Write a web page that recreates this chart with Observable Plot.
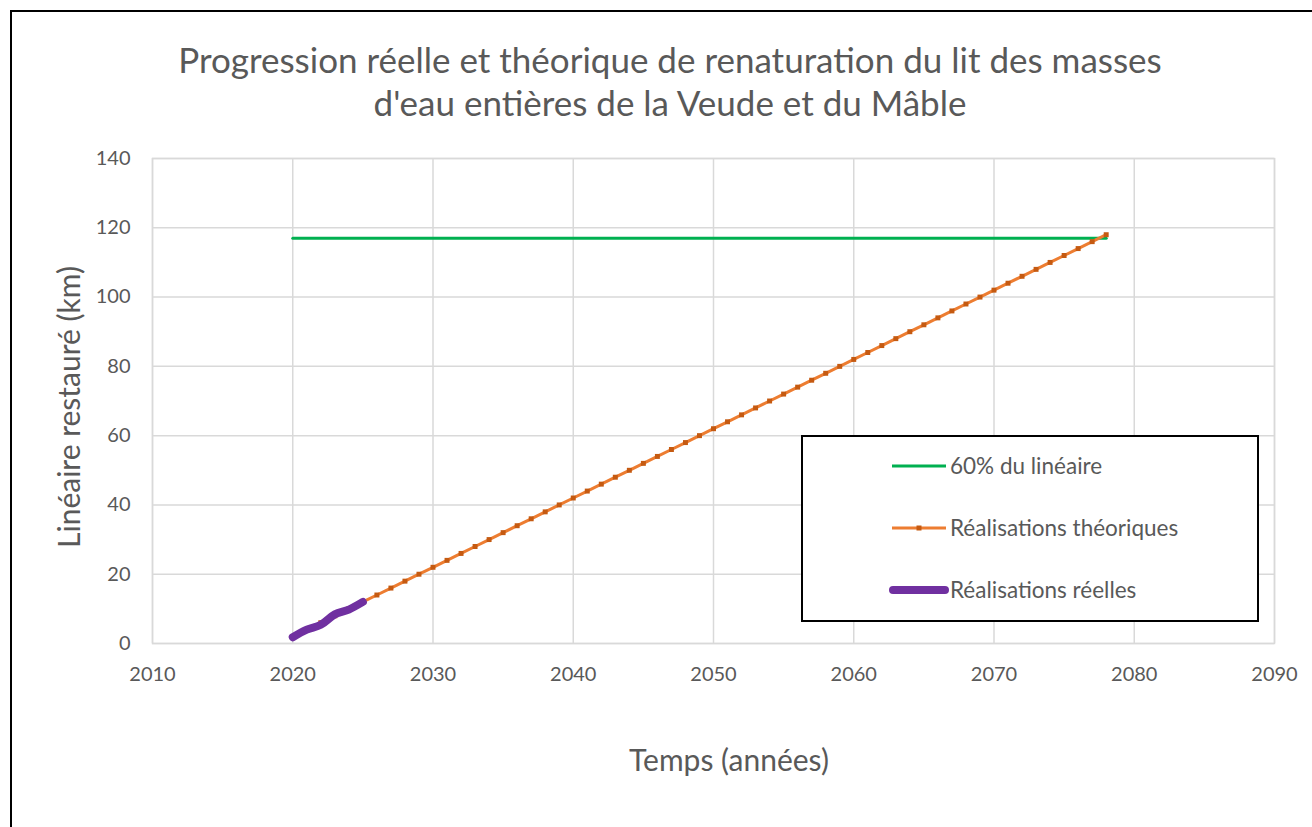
<!DOCTYPE html>
<html>
<head>
<meta charset="utf-8">
<script src="https://cdn.jsdelivr.net/npm/d3@7"></script>
<script src="https://cdn.jsdelivr.net/npm/@observablehq/plot@0.6"></script>
<style>
  html, body { margin: 0; padding: 0; background: #fff; overflow: hidden; width: 1312px; height: 827px; }
  #wrap { position: relative; width: 1312px; height: 827px; font-family: Lato, "Open Sans", sans-serif; color: #595959; }
  #frame { position: absolute; left: 10px; top: 10px; width: 1400px; height: 900px; border: 2px solid #000; box-sizing: border-box; }
  #chart { position: absolute; left: 0; top: 0; }
  .title { position: absolute; left: 0; width: 1340px; text-align: center; font-size: 35px; line-height: 40px; white-space: nowrap; }
  .axt { position: absolute; font-size: 30px; line-height: 34px; white-space: nowrap; }
  #legend { position: absolute; left: 801px; top: 435px; width: 458px; height: 187px; border: 2px solid #000; box-sizing: border-box; background: #fff; }
  .lg { position: absolute; left: 147px; font-size: 22.5px; line-height: 26px; white-space: nowrap; color: #595959; }
  #legend svg { position: absolute; left: 0; top: 0; }
</style>
</head>
<body>
<div id="wrap">
  <div id="chart"></div>
  <div id="frame"></div>
  <div class="title" style="top:39px">Progression réelle et théorique de renaturation du lit des masses</div>
  <div class="title" style="top:82px">d'eau entières de la Veude et du Mâble</div>
  <div class="axt" id="ytitle" style="left:68px; top:407px; transform: translate(-50%,-50%) rotate(-90deg);">Linéaire restauré (km)</div>
  <div class="axt" style="left:729px; top:759px; transform: translate(-50%,-50%);">Temps (années)</div>
  <div id="legend">
    <svg width="458" height="187">
      <line x1="89" x2="143" y1="29" y2="29" stroke="#00b050" stroke-width="3"/>
      <line x1="89" x2="143" y1="91" y2="91" stroke="#ed7d31" stroke-width="3"/>
      <rect x="113.5" y="88.5" width="5" height="5" fill="#c55a11"/>
      <line x1="90" x2="142" y1="153" y2="153" stroke="#7030a0" stroke-width="8" stroke-linecap="round"/>
    </svg>
    <div class="lg" style="top:16px">60% du linéaire</div>
    <div class="lg" style="top:78px">Réalisations théoriques</div>
    <div class="lg" style="top:140px">Réalisations réelles</div>
  </div>
</div>
<script>
// Data
const xTicks = [2010, 2020, 2030, 2040, 2050, 2060, 2070, 2080, 2090];
const yTicks = [0, 20, 40, 60, 80, 100, 120, 140];

const targetYears = [2020, 2078];
const targetValues = [117, 117];

const theoYears = [2020, 2021, 2022, 2023, 2024, 2025, 2026, 2027, 2028, 2029,
  2030, 2031, 2032, 2033, 2034, 2035, 2036, 2037, 2038, 2039,
  2040, 2041, 2042, 2043, 2044, 2045, 2046, 2047, 2048, 2049,
  2050, 2051, 2052, 2053, 2054, 2055, 2056, 2057, 2058, 2059,
  2060, 2061, 2062, 2063, 2064, 2065, 2066, 2067, 2068, 2069,
  2070, 2071, 2072, 2073, 2074, 2075, 2076, 2077, 2078];
const theoValues = [2, 4, 6, 8, 10, 12, 14, 16, 18, 20,
  22, 24, 26, 28, 30, 32, 34, 36, 38, 40,
  42, 44, 46, 48, 50, 52, 54, 56, 58, 60,
  62, 64, 66, 68, 70, 72, 74, 76, 78, 80,
  82, 84, 86, 88, 90, 92, 94, 96, 98, 100,
  102, 104, 106, 108, 110, 112, 114, 116, 118];

const realYears = [2020, 2021, 2022, 2023, 2024, 2025];
const realValues = [1.8, 4, 5.4, 8.4, 9.8, 12];

const target = targetYears.map((x, i) => ({x, y: targetValues[i]}));
const theo = theoYears.map((x, i) => ({x, y: theoValues[i]}));
const real = realYears.map((x, i) => ({x, y: realValues[i]}));

const chart = Plot.plot({
  width: 1312,
  height: 827,
  marginLeft: 152,
  marginRight: 38,
  marginTop: 158,
  marginBottom: 184,
  style: { fontFamily: "Lato, 'Open Sans', sans-serif", fontSize: "20px", color: "#595959", background: "transparent" },
  x: { domain: [2010, 2090], label: null },
  y: { domain: [0, 140], label: null },
  marks: [
    Plot.gridX(xTicks, { stroke: "#d9d9d9", strokeOpacity: 1, strokeWidth: 1.5 }),
    Plot.gridY(yTicks, { stroke: "#d9d9d9", strokeOpacity: 1, strokeWidth: 1.5 }),
    Plot.frame({ stroke: "#d9d9d9", strokeWidth: 1.5 }),
    Plot.axisX({ ticks: xTicks, tickFormat: d => String(d), tickSize: 0, tickPadding: 23, label: null, fill: "#595959" }),
    Plot.axisY({ ticks: yTicks, tickSize: 0, tickPadding: 22, label: null, fill: "#595959" }),
    Plot.line(target, { x: "x", y: "y", stroke: "#00b050", strokeWidth: 3 }),
    Plot.line(theo, { x: "x", y: "y", stroke: "#ed7d31", strokeWidth: 3 }),
    Plot.dot(theo, { x: "x", y: "y", symbol: "square", r: 2.8, fill: "#c55a11", stroke: null }),
    Plot.line(real, { x: "x", y: "y", stroke: "#7030a0", strokeWidth: 8, curve: "catmull-rom", strokeLinecap: "round" })
  ]
});
document.getElementById("chart").appendChild(chart);
</script>
</body>
</html>
